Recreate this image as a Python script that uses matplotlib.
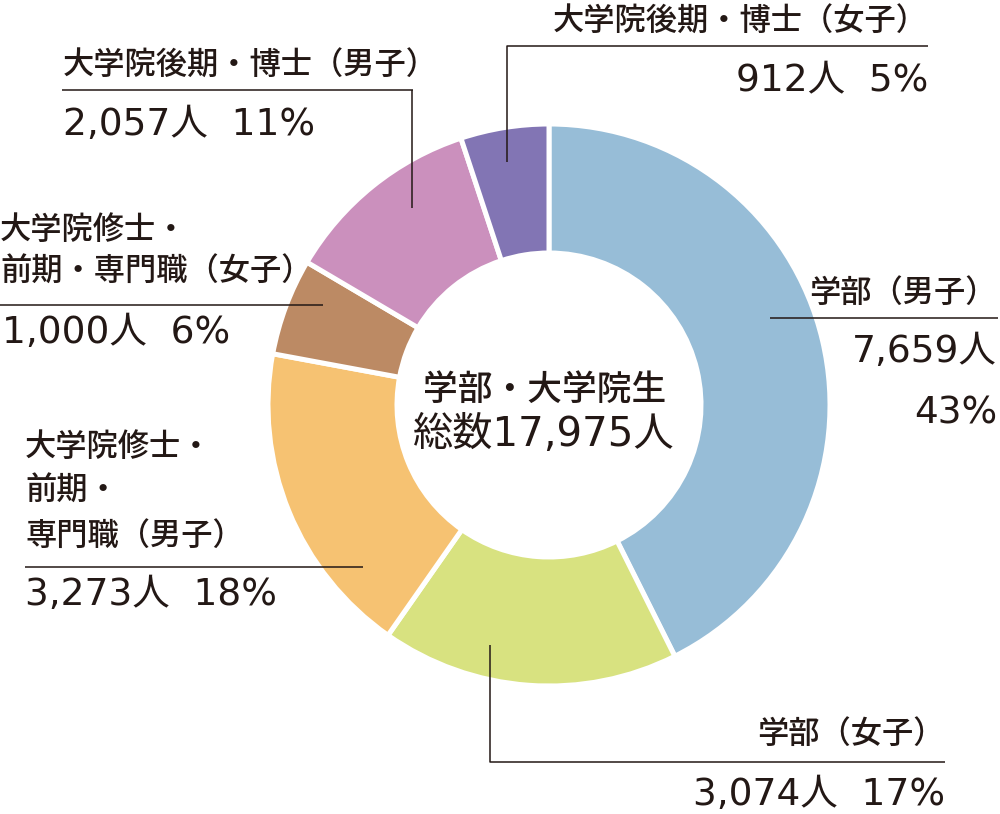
import matplotlib
matplotlib.use("Agg")
import matplotlib.pyplot as plt

# ---- data ----
categories = ["学部（男子）", "学部（女子）", "大学院修士・前期・専門職（男子）",
              "大学院修士・前期・専門職（女子）", "大学院後期・博士（男子）", "大学院後期・博士（女子）"]
counts = [7659, 3074, 3273, 1000, 2057, 912]
percents = [43, 17, 18, 6, 11, 5]
colors = ["#97BDD7", "#D8E280", "#F6C272", "#BC8A64", "#CB90BD", "#8275B4"]
total = 17975
center_title = "学部・大学院生"

TXT = "#231815"
JP = ["Noto Sans CJK JP", "DejaVu Sans"]
NUM = ["DejaVu Sans", "Noto Sans CJK JP"]

W, H = 1000, 814
fig = plt.figure(figsize=(W / 100, H / 100), dpi=100)
ax = fig.add_axes([0, 0, 1, 1])


def Y(y):
    return H - y


ax.pie(counts, colors=colors, startangle=90, counterclock=False,
       center=(549, Y(405)), radius=281,
       wedgeprops=dict(width=129, edgecolor="white", linewidth=3.6))
ax.set_xlim(0, W)
ax.set_ylim(0, H)
ax.set_aspect("equal")
ax.axis("off")


def line(xs, ys):
    ax.plot(xs, [Y(v) for v in ys], color=TXT, lw=1.1, solid_capstyle="butt")


def jp(x, y, s, ha="left", size=22.5):
    ax.text(x, Y(y), s, ha=ha, va="baseline", fontsize=size, color=TXT,
            family=JP, fontweight="medium")


def num(x, y, s, ha="left", size=27):
    ax.text(x, Y(y), s, ha=ha, va="baseline", fontsize=size, color=TXT, family=NUM)


def numstr(i):
    return f"{counts[i]:,}人  {percents[i]}%"


# 学部（男子）
line([770, 998], [318, 318])
jp(997, 302, categories[0], ha="right")
num(997, 362, f"{counts[0]:,}人", ha="right")
num(997, 423, f"{percents[0]}%", ha="right")

# 学部（女子）
line([490, 490, 945], [645, 762, 762])
jp(945, 743, categories[1], ha="right")
num(945, 805, numstr(1), ha="right")

# 大学院修士・前期・専門職（男子）
line([25, 363], [567, 567])
jp(25, 456, "大学院修士・")
jp(25, 500, "前期・")
jp(25, 545, "専門職（男子）")
num(25, 605, numstr(2))

# 大学院修士・前期・専門職（女子）
line([0, 323], [305, 305])
jp(0, 239, "大学院修士・")
jp(0, 281, "前期・専門職（女子）")
num(2, 343, numstr(3))

# 大学院後期・博士（男子）
line([62, 413], [90, 90])
line([412, 412], [90, 208])
jp(63, 75, categories[4])
num(63, 135, numstr(4))

# 大学院後期・博士（女子）
line([507, 507, 928], [162, 46, 46])
jp(928, 31, categories[5], ha="right")
num(928, 91, numstr(5), ha="right")

# centre
ax.text(545, Y(400), center_title, ha="center", va="baseline", fontsize=25,
        color=TXT, family=JP, fontweight="medium")
ax.text(544, Y(446), f"総数{total:,}人", ha="center", va="baseline", fontsize=29,
        color=TXT, family=NUM)

fig.savefig("out.png", dpi=100)
